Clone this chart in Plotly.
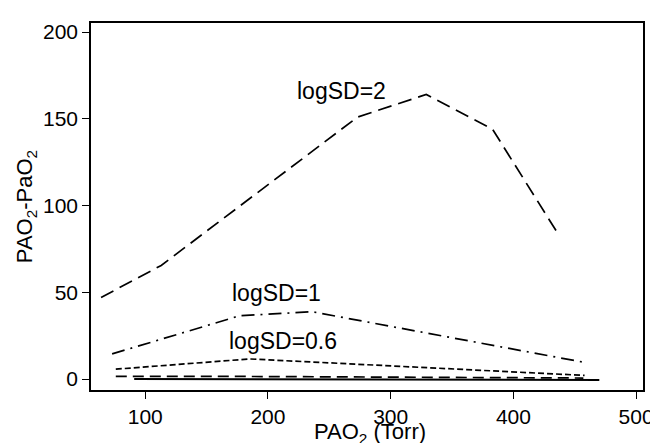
import plotly.graph_objects as go

# logSD = 2 (long dashes)
x_sd2 = [64, 113, 273, 329, 383, 437]
y_sd2 = [47, 65.5, 151, 164, 144, 83]
# logSD = 1 (dash-dot)
x_sd1 = [73, 177, 236, 458]
y_sd1 = [14.5, 36.5, 38.8, 9.6]
# logSD = 0.6 (short dashes)
x_sd06 = [76, 185, 458]
y_sd06 = [5.7, 11.6, 2.1]
# lower SD (dashed, near zero)
x_low = [76, 185, 457]
y_low = [1.5, 1.5, 0.6]
# homogeneous (solid)
x_zero = [91, 470]
y_zero = [0, -0.5]

labels = ["logSD=2", "logSD=1", "logSD=0.6"]
label_x = [260, 207, 212]
label_y = [166, 49.5, 21.8]

x_ticks = [100, 200, 300, 400, 500]
y_ticks = [0, 50, 100, 150, 200]

FONT = "Arial, Liberation Sans, Helvetica, sans-serif"

fig = go.Figure()
series = [
    (x_sd2, y_sd2, "14px,7px", 1.7),
    (x_sd1, y_sd1, "13px,6px,2px,6px", 1.7),
    (x_sd06, y_sd06, "6px,3px", 1.7),
    (x_low, y_low, "11px,6px", 1.7),
    (x_zero, y_zero, "solid", 2.0),
]
for xs, ys, dash, w in series:
    fig.add_trace(go.Scatter(x=xs, y=ys, mode="lines",
                             line=dict(color="black", width=w, dash=dash),
                             showlegend=False))

for t, lx, ly in zip(labels, label_x, label_y):
    fig.add_annotation(x=lx, y=ly, text=t, showarrow=False,
                       font=dict(size=23, color="black", family=FONT),
                       xanchor="center", yanchor="middle")

# x-axis title (placed as annotation for exact vertical position)
fig.add_annotation(x=0.505, y=0, xref="paper", yref="paper",
                   text="PAO<sub>2</sub> (Torr)", showarrow=False,
                   font=dict(size=22, color="black", family=FONT),
                   xanchor="center", yanchor="top", yshift=-27)

axis_common = dict(showgrid=False, zeroline=False, showline=True, linecolor="black",
                   linewidth=1.5, mirror=True, ticks="outside", ticklen=7,
                   tickwidth=1.3, tickcolor="black",
                   tickfont=dict(size=21, color="black", family=FONT))

fig.update_layout(
    width=658, height=443,
    margin=dict(l=83, r=14, t=13, b=61),
    plot_bgcolor="white", paper_bgcolor="white",
    font=dict(family=FONT, color="black"),
    xaxis=dict(range=[55.8, 505.6], tickvals=x_ticks, **axis_common),
    yaxis=dict(range=[-6.3, 205.2], tickvals=y_ticks,
               title=dict(text="PAO<sub>2</sub>-PaO<sub>2</sub>", font=dict(size=22, family=FONT), standoff=4),
               **axis_common),
)

fig.write_html("out.html")
